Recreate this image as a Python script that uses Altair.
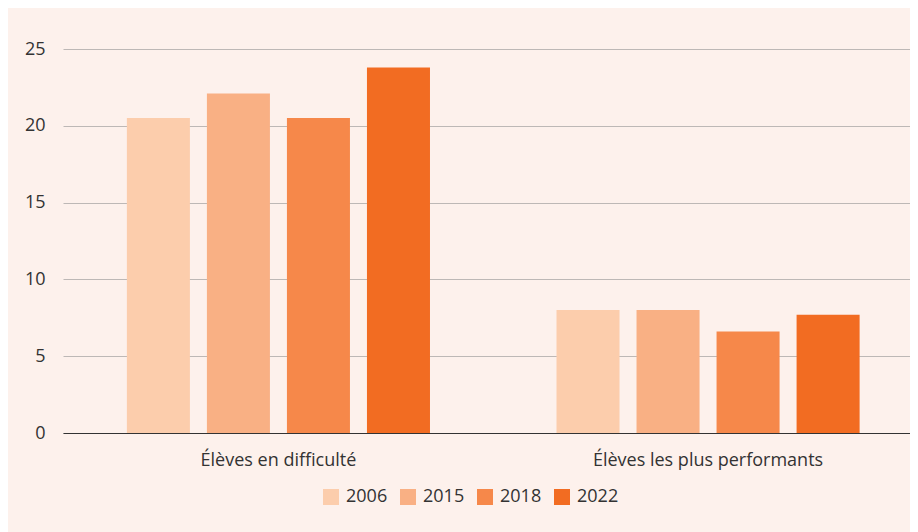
import altair as alt
import pandas as pd

groups = ["Élèves en difficulté", "Élèves les plus performants"]
years = ["2006", "2015", "2018", "2022"]
values_difficulte = [20.5, 22.1, 20.5, 23.8]
values_performants = [8.0, 8.0, 6.6, 7.7]
colors = ["#fccdac", "#f9b084", "#f6884a", "#f26c22"]

rows = []
for y, v in zip(years, values_difficulte):
    rows.append({"groupe": groups[0], "annee": y, "valeur": v})
for y, v in zip(years, values_performants):
    rows.append({"groupe": groups[1], "annee": y, "valeur": v})
df = pd.DataFrame(rows)

font = "Open Sans"
text_color = "#333333"

chart = alt.Chart(df).mark_bar().encode(
    x=alt.X("groupe:N", sort=groups, title=None,
            scale=alt.Scale(paddingInner=0.2945, paddingOuter=0.133, align=0.559),
            axis=alt.Axis(labelAngle=0, ticks=False, domain=True, domainColor="#333333",
                          domainWidth=1.2, labelFontSize=18, labelColor=text_color,
                          labelPadding=18, labelFont=font, labelLimit=400)),
    xOffset=alt.XOffset("annee:N", sort=years,
                        scale=alt.Scale(paddingInner=0.2125, paddingOuter=0)),
    y=alt.Y("valeur:Q", title=None,
            scale=alt.Scale(domain=[0, 25], nice=False),
            axis=alt.Axis(values=[0, 5, 10, 15, 20, 25], ticks=False, domain=False,
                          gridColor="#bdb8b6", gridWidth=1, labelFontSize=18,
                          labelColor=text_color, labelPadding=18, labelFont=font)),
    color=alt.Color("annee:N", sort=years,
                    scale=alt.Scale(domain=years, range=colors),
                    legend=alt.Legend(title=None, orient="none", direction="horizontal",
                                      legendX=259, legendY=439,
                                      symbolType="square", symbolSize=256,
                                      symbolStrokeWidth=0, labelFontSize=18,
                                      labelColor=text_color, labelFont=font,
                                      labelOffset=6, columnPadding=11)),
).properties(
    width=847,
    height=384,
    background="#fdf1ec",
    padding={"left": 55, "top": 41, "right": 0, "bottom": 99},
    autosize=alt.AutoSizeParams(type="none"),
).configure_view(stroke=None)

chart.save("out.html", embed_options={"renderer": "svg", "actions": False})
